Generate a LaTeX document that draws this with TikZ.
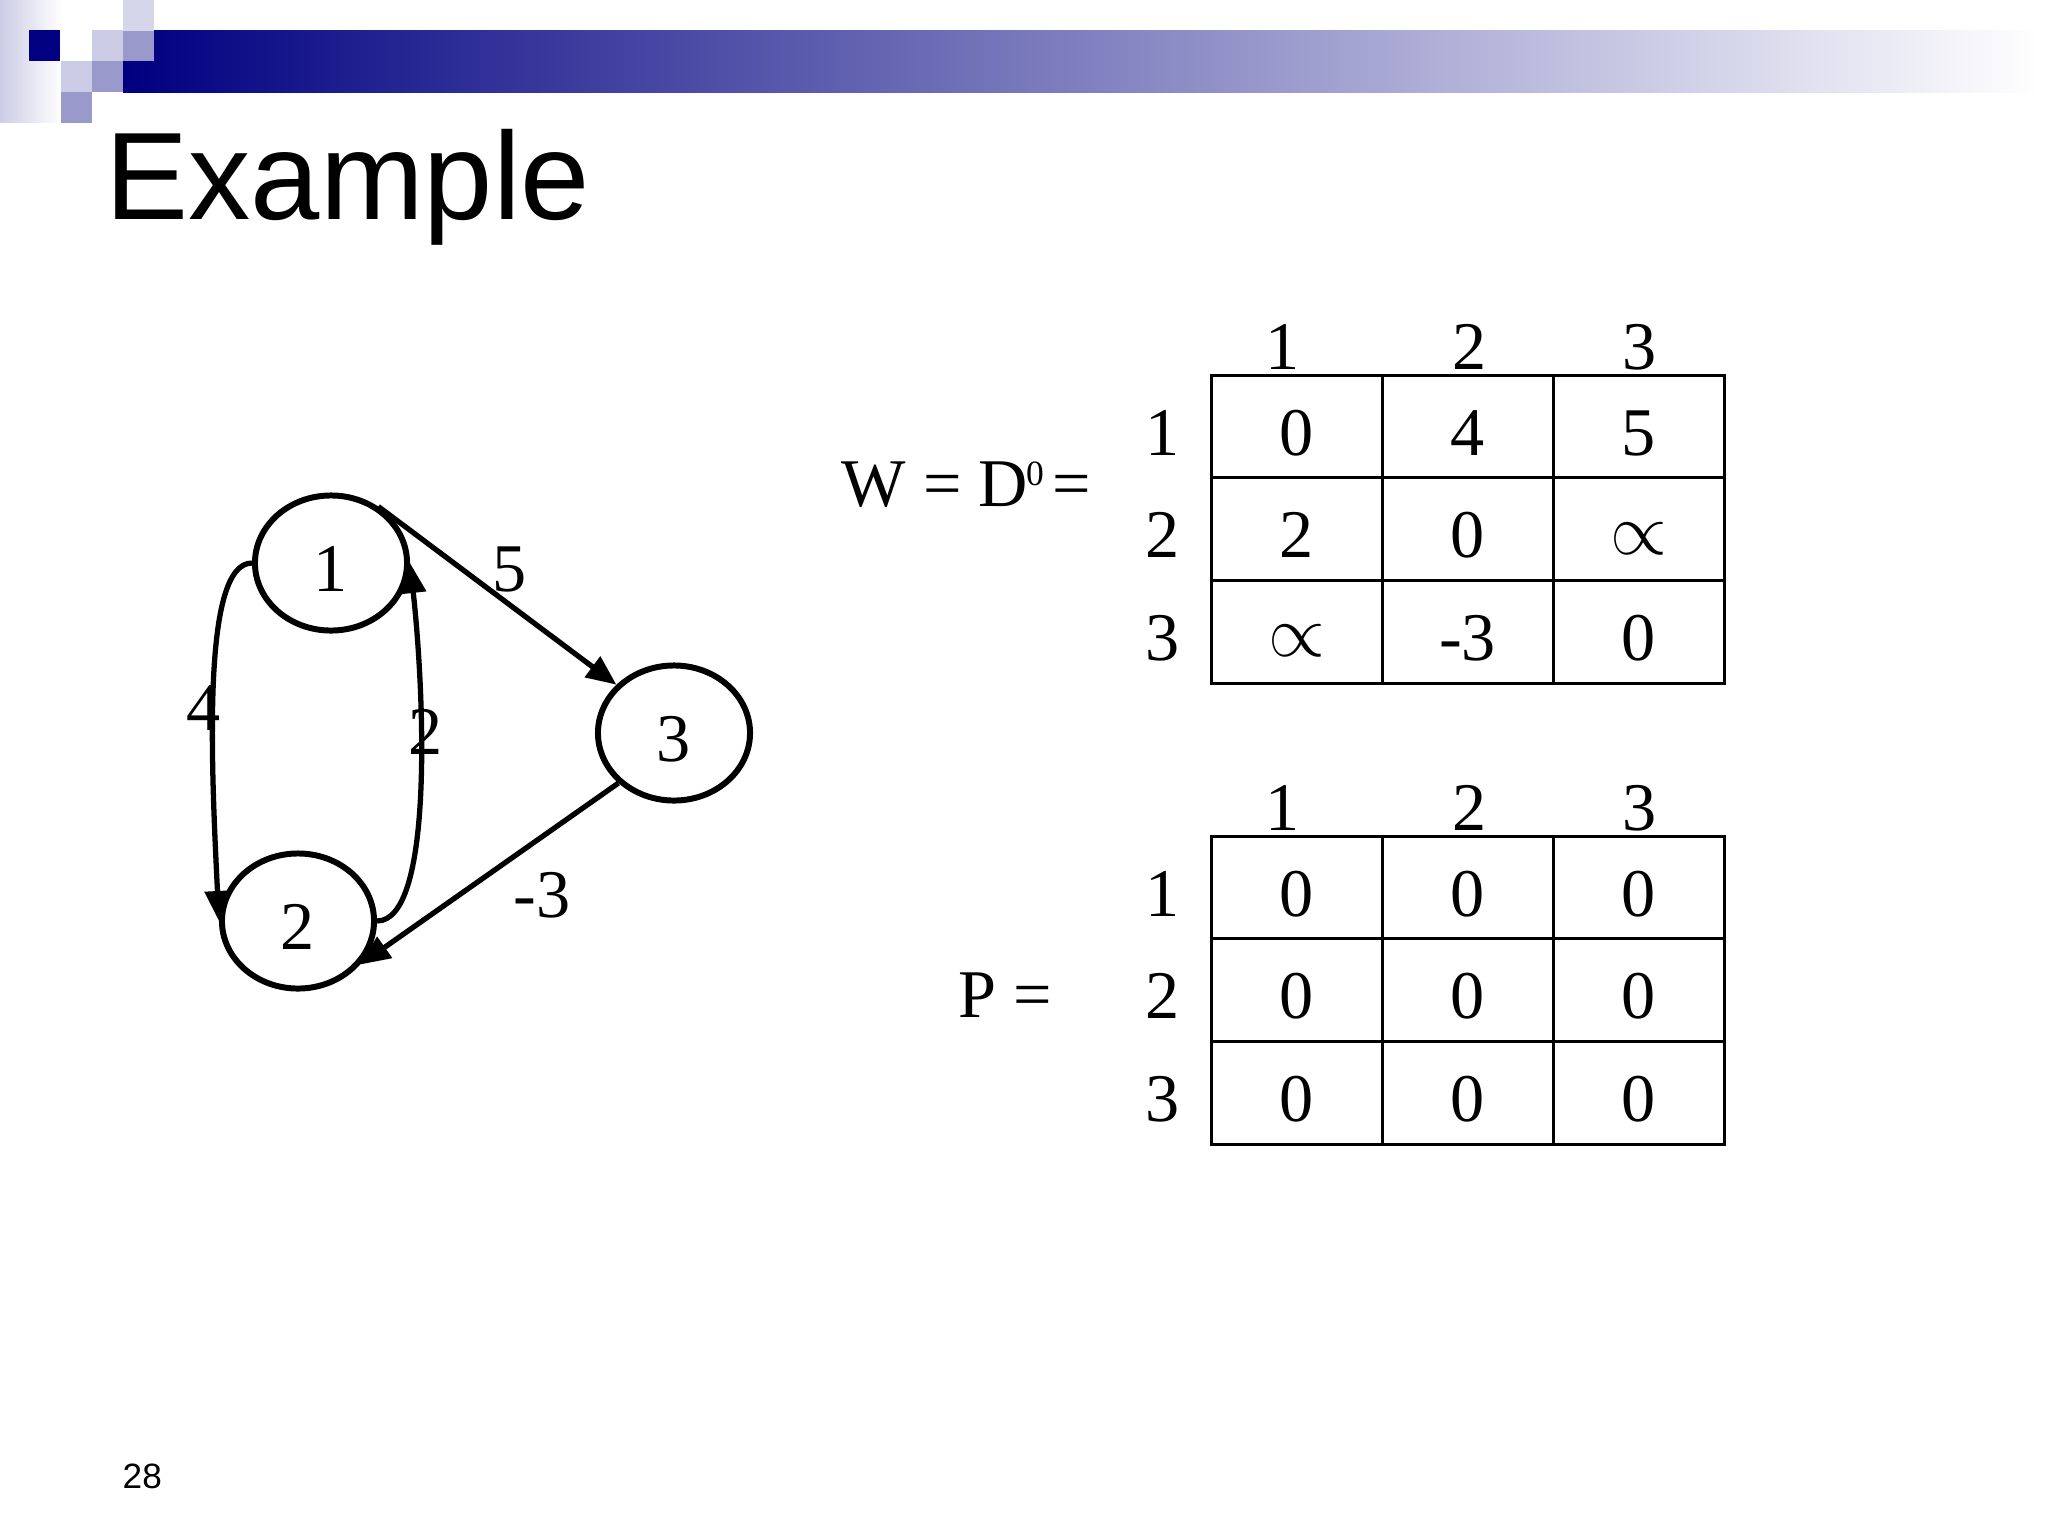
\documentclass[tikz,border=0pt]{standalone}
\usepackage{fontspec}
\setmainfont{Liberation Serif}
\newfontfamily\titre{Liberation Sans}
\usetikzlibrary{arrows.meta,positioning,shapes.geometric}
\definecolor{marine}{HTML}{000080}
\definecolor{lavande}{HTML}{CCCCE6}
\definecolor{mauve}{HTML}{9999CC}
\tikzset{
  sommet/.style={draw,ellipse,line width=1.7pt,minimum width=1.52cm,minimum height=1.35cm,
                 inner sep=0pt,text height=0.56cm,text depth=0pt,font=\fontsize{19.4}{23}\selectfont},
  fleche/.style={-{Triangle[length=0.3cm,width=0.25cm]},line width=1.5pt},
  etiq/.style={anchor=base,inner sep=0pt,font=\fontsize{19.4}{23}\selectfont},
  grille/.style={line width=0.85pt},
}
\newcommand\infini{\raisebox{1pt}{$\propto$}}
\begin{document}
\begin{tikzpicture}[x=0.01cm,y=-0.01cm]
  \useasboundingbox[fill=white] (0,0) rectangle (2048,1536);
  % bandeau du haut
  \shade[left color=lavande,right color=white] (0,0) rectangle (62,122);
  \shade[left color=marine,right color=white] (123,30) rectangle (2040,92);
  \foreach \x/\y/\c in {29/30/marine,92/30/lavande,123/30/mauve,123/0/lavande!80!white,
                        61/61/lavande,92/61/mauve,61/92/mauve}
    \fill[\c] (\x,\y) rectangle ++(31,31);
  \node[anchor=base west,inner sep=0pt,font=\titre\fontsize{35.4}{42}\selectfont] (titre) at (105,219) {Example};
  \node[anchor=base west,inner sep=0pt,font=\titre\fontsize{10}{12}\selectfont] (page) at (122,1488) {28};
  % graphe
  \node[sommet] (s1) at (331,563) {1};
  \node[sommet] (s2) at (298,921) {2};
  \node[sommet] (s3) at (674,733) {3};
  \draw[fleche] (s1.50) -- (s3.140);
  \draw[fleche] (s3.222) -- (s2.325);
  \draw[fleche] (s1.west) .. controls +(-50,0) and +(-8,-161) .. (s2.west);
  \draw[fleche] (s2.east) .. controls +(56,0) and +(15,137) .. (s1.east);
  \node[etiq] (p13) at (510,591) {5};
  \node[etiq] (p32) at (542,917) {-3};
  \node[etiq] (p12) at (204,730) {4};
  \node[etiq] (p21) at (426,754) {2};
  % tableaux
  \foreach \nom/\haut in {w/375,p/836} {
    \draw[grille] (1211,\haut) rectangle (1724,{\haut+308});
    \foreach \k in {1,2} {
      \draw[grille] (1211,{\haut+102.7*\k}) -- (1724,{\haut+102.7*\k});
      \draw[grille] ({1211+171*\k},\haut) -- ({1211+171*\k},{\haut+308});
    }
    \foreach \k/\xc in {1/1283,2/1470,3/1640} {
      \node[etiq] (\nom c\k) at (\xc,{\haut-6}) {\k};
      \node[etiq] (\nom l\k) at (1163,{\haut+80+102.7*(\k-1)}) {\k};
    }
  }
  \foreach \lig/\valeurs in {1/{0,4,5},2/{2,0,\infini},3/{\infini,-3,0}}
    \foreach \v [count=\col] in \valeurs
      \node[etiq] (w\lig\col) at ({1211+171*\col-85.5},{455+102.7*(\lig-1)}) {\v};
  \foreach \lig in {1,2,3}
    \foreach \col in {1,2,3}
      \node[etiq] (p\lig\col) at ({1211+171*\col-85.5},{916+102.7*(\lig-1)}) {0};
  \node[etiq,anchor=base west] (wlab) at (841,506)
    {W = D\kern-0.5pt\raisebox{5.7pt}{\fontsize{10.1}{12}\selectfont 0}\kern2.3pt=};
  \node[etiq,anchor=base west] (plab) at (958,1017) {P =};
\end{tikzpicture}
\end{document}
